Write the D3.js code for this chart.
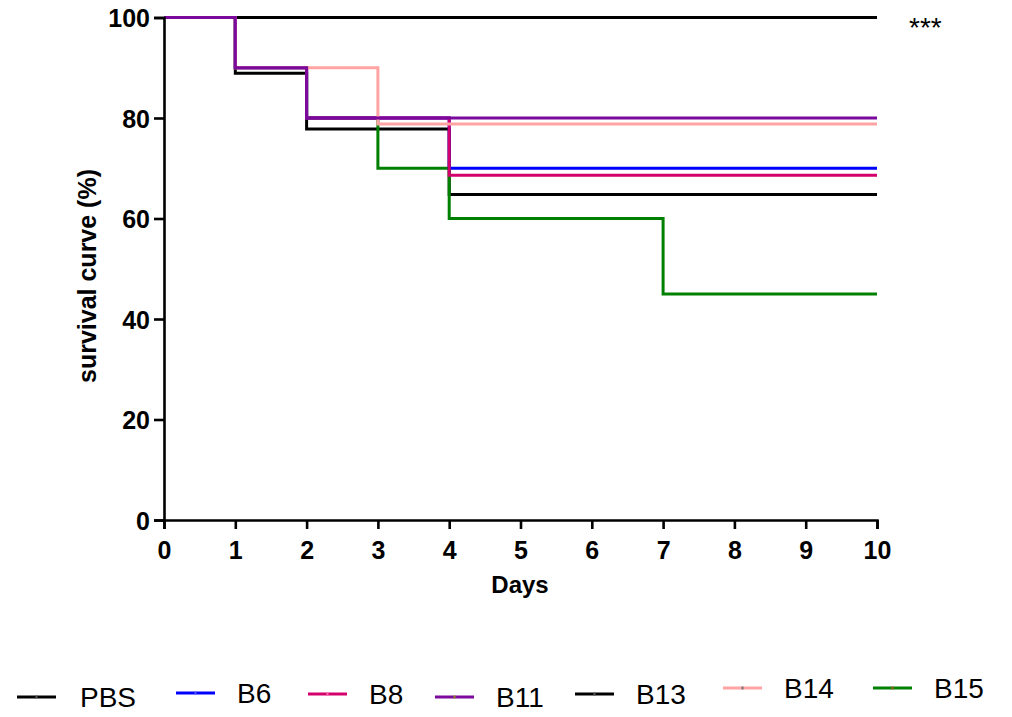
<!DOCTYPE html>
<html>
<head>
<meta charset="utf-8">
<script src="https://cdn.jsdelivr.net/npm/d3@7"></script>
<style>
	body { margin: 0; background: #fff; }
	text { font-family: "Liberation Sans", Arial, sans-serif; }
</style>
</head>
<body>
<svg id="chart" width="1012" height="717"></svg>
<script>
// survival data
const names = ["PBS", "B6", "B8", "B11", "B13", "B14", "B15"];
const colours = ["#000000", "#0000ff", "#d4006c", "#7b0a9c", "#000000", "#ffa3a3", "#008000"];
const marks = ["#555555", "#5555ff", "#ff66aa", "#8a8a20", "#555555", "#777777", "#a0602a"];

const pbsDays = [0, 10],              pbsSurv = [100, 100];
const b6Days  = [0, 1, 2, 4, 10],     b6Surv  = [100, 90, 80, 70, 70];
const b8Days  = [0, 1, 2, 4, 10],     b8Surv  = [100, 90, 80, 68.6, 68.6];
const b11Days = [0, 1, 2, 10],        b11Surv = [100, 90, 80, 80];
const b13Days = [0, 1, 2, 4, 10],     b13Surv = [100, 88.9, 77.8, 64.8, 64.8];
const b14Days = [0, 1, 3, 10],        b14Surv = [100, 90, 78.8, 78.8];
const b15Days = [0, 1, 2, 3, 4, 7, 10], b15Surv = [100, 90, 80, 70, 60, 45, 45];

const xTicks = [0, 1, 2, 3, 4, 5, 6, 7, 8, 9, 10];
const yTicks = [0, 20, 40, 60, 80, 100];

const days = [pbsDays, b6Days, b8Days, b11Days, b13Days, b14Days, b15Days];
const surv = [pbsSurv, b6Surv, b8Surv, b11Surv, b13Surv, b14Surv, b15Surv];

// legend layout (swatch left, swatch y)
const legendX = [17, 176, 308, 435, 575, 723, 873];
const legendY = [697, 693, 694, 697, 694, 688, 688];

const svg = d3.select('#chart');

const x = d3.scaleLinear().domain([0, 10]).range([164, 877]);
const y = d3.scaleLinear().domain([0, 100]).range([520, 17.5]);

const line = d3.line()
	.x(d => x(d[0]))
	.y(d => y(d[1]))
	.curve(d3.curveStepAfter);

// draw order: purple ends up on top
const order = [0, 4, 6, 1, 2, 5, 3];

svg.append('g')
	.selectAll('path')
	.data(order)
	.enter().append('path')
	.attr('fill', 'none')
	.attr('stroke', i => colours[i])
	.attr('stroke-width', 3)
	.attr('d', i => line(d3.zip(days[i], surv[i])));

const xAxis = svg.append('g')
	.attr('transform', `translate(0,${y(0)})`)
	.call(d3.axisBottom(x).tickValues(xTicks).tickSize(9).tickPadding(12).tickFormat(d3.format('d')));

const yAxis = svg.append('g')
	.attr('transform', `translate(${x(0)},0)`)
	.call(d3.axisLeft(y).tickValues(yTicks).tickSize(10).tickPadding(4).tickFormat(d3.format('d')));

for (let a of [xAxis, yAxis]) {
	a.select('.domain').attr('stroke', '#000').attr('stroke-width', 2.6);
	a.selectAll('.tick line').attr('stroke', '#000').attr('stroke-width', 2.6);
	a.selectAll('.tick text')
		.attr('fill', '#000')
		.style('font-family', '"Liberation Sans", Arial, sans-serif')
		.style('font-size', '25px')
		.style('font-weight', 'bold');
}
yAxis.selectAll('.tick text').attr('dy', '0.36em');

svg.append('text')
	.attr('x', 520)
	.attr('y', 593)
	.attr('text-anchor', 'middle')
	.style('font-size', '24px')
	.style('font-weight', 'bold')
	.text('Days');

svg.append('text')
	.attr('transform', 'translate(96,276)rotate(-90)')
	.attr('text-anchor', 'middle')
	.style('font-size', '25px')
	.style('font-weight', 'bold')
	.text('survival curve (%)');

svg.append('text')
	.attr('x', 909)
	.attr('y', 37)
	.style('font-size', '28px')
	.text('***');

// legend
const lg = svg.append('g')
	.selectAll('g')
	.data(names)
	.enter().append('g')
	.attr('transform', (d, i) => `translate(${legendX[i]},${legendY[i]})`);

lg.append('line')
	.attr('x1', 0).attr('x2', 39)
	.attr('y1', 0).attr('y2', 0)
	.attr('stroke', (d, i) => colours[i])
	.attr('stroke-width', 3);

lg.append('rect')
	.attr('x', 18.5).attr('y', -1.5)
	.attr('width', 2).attr('height', 3)
	.attr('fill', (d, i) => marks[i]);

lg.append('text')
	.attr('x', (d, i) => (i === 0 ? 63 : 61))
	.attr('y', 10)
	.style('font-size', '28px')
	.attr('fill', '#000')
	.text(d => d);
</script>
</body>
</html>
